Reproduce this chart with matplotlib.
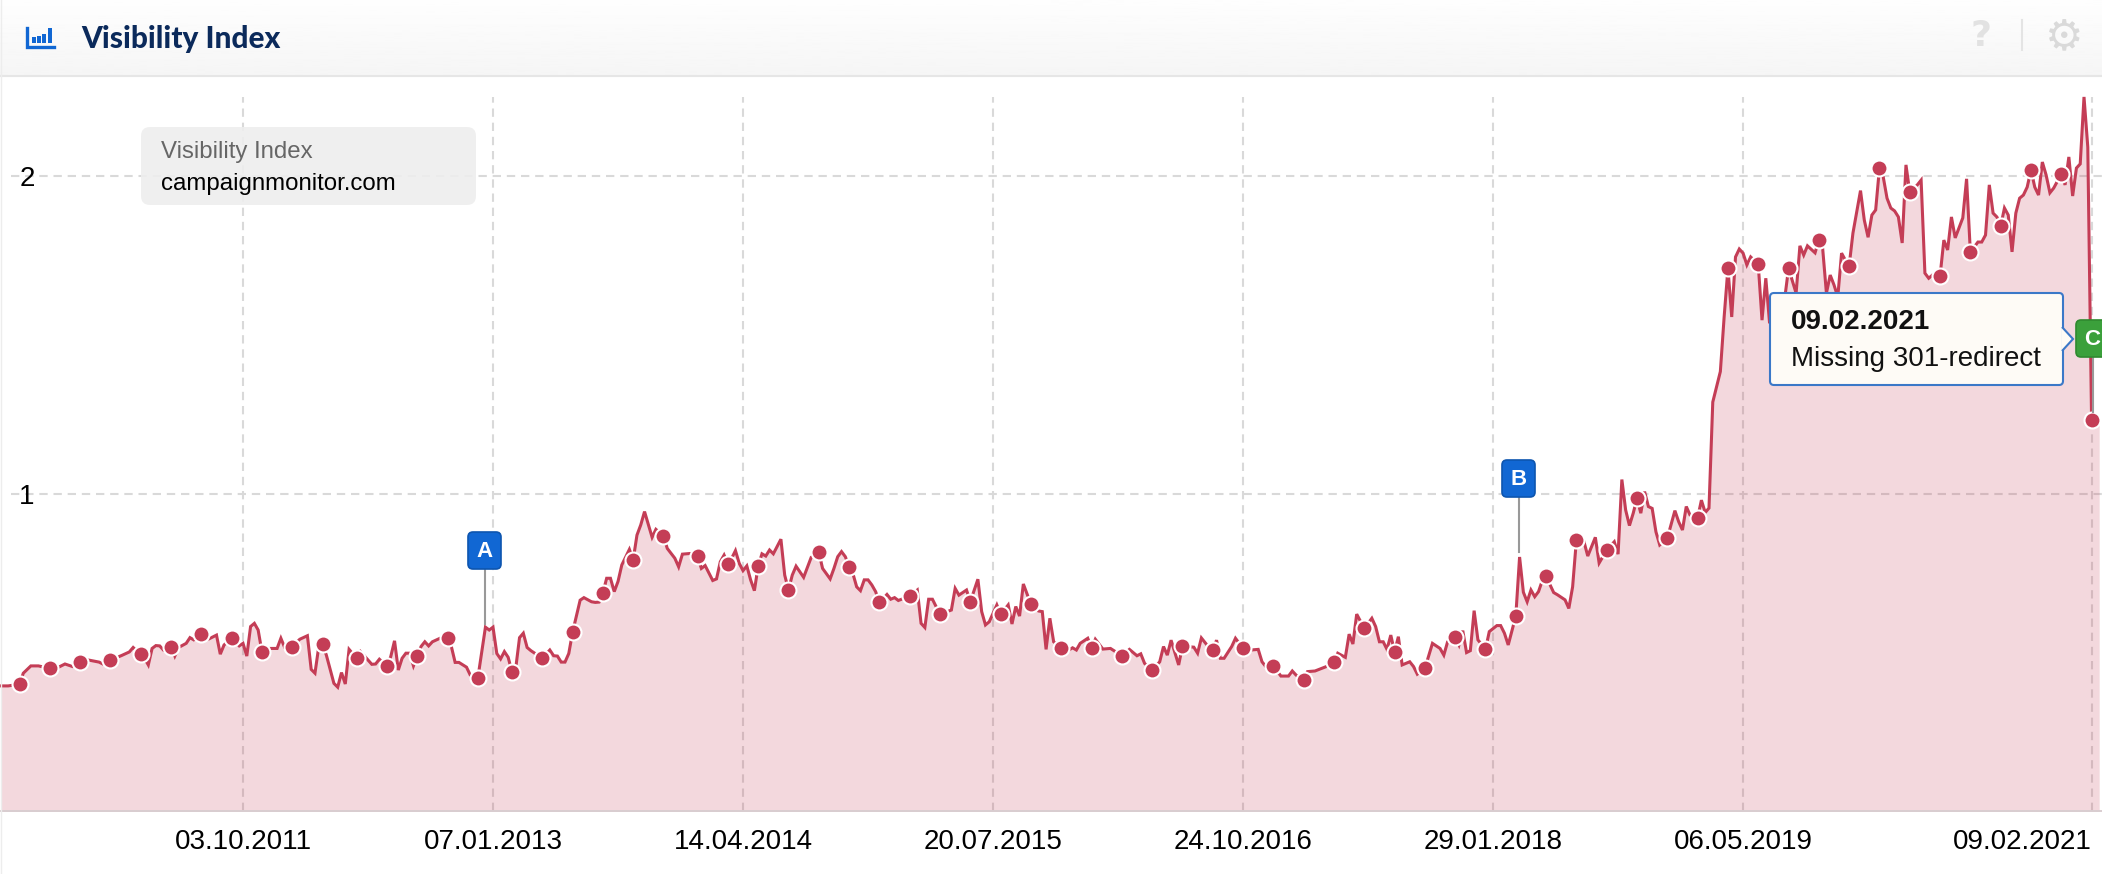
import numpy as np
import pandas as pd
import matplotlib
matplotlib.use("Agg")
import matplotlib.pyplot as plt
from matplotlib.patches import FancyBboxPatch, Polygon, Rectangle

plt.rcParams['font.family'] = ['Liberation Sans', 'DejaVu Sans']

# weeks counted from the first date on the axis
first_date = pd.Timestamp("2010-07-12")

weeks = [0, 2, 5, 6, 8, 10, 13, 15, 17, 19, 21, 23, 26, 27, 29, 32, 34, 35, 37, 38, 39, 40, 41, 42, 43, 45,
         46, 47, 49, 50, 51, 53, 55, 57, 58, 59, 61, 63, 64, 65, 66, 67, 68, 69, 71, 73, 74, 75, 77,
         79, 81, 82, 83, 84, 85, 86, 88, 89, 90, 91, 92, 94, 95, 96, 98, 99, 100, 102, 103, 104, 105, 106,
         107, 108, 109, 110, 111, 112, 113, 114, 116, 118, 119, 120, 121, 123, 124, 126, 128, 129, 130,
         131, 132, 133, 134, 135, 136, 137, 138, 139, 140, 143, 145, 146, 147, 148, 149, 150, 151, 153,
         154, 156, 157,
         158, 159, 160, 161, 162, 163, 164, 166, 167, 168, 169, 170, 172, 173, 175, 176, 178, 179, 180,
         182, 184, 185, 186, 188, 189, 190, 191, 192, 193, 194, 195, 196, 197, 198, 199, 200, 201, 202,
         203, 204, 206, 207, 208, 209, 210, 212, 214, 216, 217, 219, 220, 221, 222, 223, 224, 225, 226,
         227, 228, 229, 230, 231, 232, 234, 235, 236,
         237, 240, 242, 243, 244, 245, 246, 248, 251, 252, 253, 255, 256, 258, 259, 260, 261, 263, 264,
         266, 267, 268, 269, 270, 272, 274, 275, 276, 277, 278, 280, 282, 283, 284, 285, 287, 288, 289,
         291, 293, 296, 298, 300, 301, 302, 304, 306, 307, 308, 309, 311, 312, 315, 316,
         317, 319, 320, 321, 322, 323, 325, 326, 328, 330, 332, 333, 334, 336, 338, 340, 341, 342, 344,
         345, 347, 350, 352, 353, 355, 356, 357, 358, 360, 362, 363, 364, 365, 366, 367, 368, 369, 370,
         372, 373, 374, 376, 378, 380, 381, 382, 384, 385, 386, 387, 388, 389, 390,
         392, 393, 395, 396, 397, 398, 400, 401, 402, 403, 404, 405, 406, 407, 408, 410, 411, 413, 414,
         415, 416, 418, 419, 421, 422, 424, 426, 427, 428, 429, 430, 431, 432, 433, 434, 435, 436, 437,
         438, 440, 442, 443, 444, 445, 446, 448, 449, 450, 451,
         452, 454, 455, 456, 457, 458, 459, 460, 461, 462, 464, 465, 466, 467, 468, 471, 472, 474, 475,
         476, 477, 479, 480, 481, 482, 483, 484, 485, 486, 487, 488, 489, 491, 492, 493, 494, 495, 496,
         497, 498, 499, 500, 501, 502, 503, 504, 506, 507, 508, 509, 510, 512, 513, 514, 515, 516, 518,
         519, 520, 522, 523, 524, 525, 526, 527, 528, 529, 530, 531, 532, 533, 534, 535, 536, 537, 538,
         539, 540, 541, 542, 544, 545, 546, 547, 548, 549, 550, 551, 552, 554]

values = [.394, .394, .399, .434, .457, .457, .449, .451, .463, .455, .469, .476, .469, .463, .475, .490, .501, .515, .493, .481, .460, .512, .521, .520, .507, .518,
          .488, .515, .528, .546, .539, .556, .542, .554, .494, .523, .544, .520, .528, .488, .581, .591, .570, .501, .512, .512, .544, .515, .518,
          .541, .552, .446, .434, .518, .525, .491, .402, .390, .436, .400, .509, .481, .502, .489, .462, .463, .478, .456, .486, .536, .444, .481,
          .497, .497, .457, .487, .518, .533, .520, .533, .544, .544, .518, .468, .468, .453, .428, .419, .579, .570, .579,
          .496, .479, .502, .484, .438, .450, .546, .560, .515, .505, .481, .507, .489, .488, .469, .469, .496, .563, .664,
          .672, .659, .657,
          .658, .687, .733, .733, .691, .723, .775, .824, .791, .869, .901, .943, .862, .887, .866, .827, .796, .769, .809,
          .811, .802, .764, .773, .726, .731, .785, .806, .778, .796, .820, .780, .757, .772, .728, .694, .772, .810, .803,
          .822, .810, .856, .743, .696, .743, .771, .736, .799, .815, .764, .731, .764, .801, .817, .801, .770, .748, .706,
          .694, .728, .728, .712, .691, .657, .682, .667, .672,
          .663, .677, .696, .591, .578, .667, .667, .619, .633, .701, .680, .696, .659, .730, .628, .586, .596, .649, .619,
          .649, .589, .644, .614, .715, .651, .630, .628, .509, .607, .533, .514, .507, .514, .507, .528, .544, .513, .541,
          .510, .512, .489, .509, .489, .495, .465, .443, .470, .518, .491, .538, .460, .519, .516, .497,
          .545, .515, .507, .538, .481, .481, .518, .544, .512, .507, .509, .470, .455, .456, .425, .425, .441, .428, .412,
          .439, .441, .455, .469, .497, .484, .557, .526, .620, .575, .607, .581, .533, .533, .509, .554, .501, .549, .460,
          .470, .455, .431, .449, .528, .512, .491, .533, .549, .523, .568, .499, .505, .631, .539,
          .509, .565, .584, .584, .560, .523, .614, .800, .689, .659, .696, .675, .691, .726, .739, .688, .681, .665, .638,
          .706, .854, .848, .803, .862, .781, .822, .848, .809, 1.044, .948, .899, .938, .985, .938, 1.006, .959, .953, .879,
          .838, .859, .946, .911, .885, .959, .932, .923, .979, .940, .954,
          1.288, 1.384, 1.556, 1.709, 1.556, 1.745, 1.770, 1.757, 1.720, 1.745, 1.722, 1.546, 1.678, 1.536, 1.593, 1.615, 1.709, 1.631, 1.780,
          1.751, 1.780, 1.758, 1.798, 1.773, 1.631, 1.688, 1.657, 1.619, 1.757, 1.735, 1.717, 1.820, 1.954, 1.861, 1.807, 1.877, 1.893, 2.025,
          1.997, 1.930, 1.899, 1.890, 1.871, 1.789, 2.035, 1.949, 1.972, 1.987, 1.694, 1.678, 1.688, 1.685, 1.798, 1.767, 1.871, 1.805, 1.868,
          1.991, 1.760, 1.792, 1.792, 1.814, 1.972, 1.883, 1.871, 1.842, 1.899, 1.877, 1.761, 1.883, 1.930, 1.940, 1.965, 2.019, 1.965, 1.940,
          2.044, 2.003, 1.947, 1.962, 2.006, 1.972, 2.060, 1.937, 2.025, 2.038, 2.249, 2.091, 1.231, 1.231]

marker_weeks = [5, 13, 21, 29, 37, 45, 53, 61, 69, 77, 85, 94, 102, 110, 118, 126, 135, 143, 151, 159,
                167, 175, 184, 192, 200, 208, 216, 224, 232, 240, 248, 256, 264, 272, 280, 288, 296, 304,
                312, 320, 328, 336, 344, 352, 360, 368, 376, 384, 392, 400, 408, 416, 424, 432, 440, 448,
                456, 464, 472, 480, 488, 496, 504, 512, 520, 528, 536, 544, 552]

tick_dates = ["2011-10-03", "2013-01-07", "2014-04-14", "2015-07-20", "2016-10-24", "2018-01-29", "2019-05-06", "2021-02-09"]
tick_labels = ["03.10.2011", "07.01.2013", "14.04.2014", "20.07.2015", "24.10.2016", "29.01.2018", "06.05.2019", "09.02.2021"]
y_ticks = [1, 2]

RED = '#C43D56'
GRID = '#D9D9D9'
BLUE = '#1167D3'

weeks = np.array(weeks)
values = np.array(values)
dates = first_date + pd.to_timedelta(weeks * 7, unit='D')
ticks = pd.to_datetime(tick_dates)
shown = np.isin(weeks, marker_weeks)

fig = plt.figure(figsize=(21.02, 8.74), dpi=100, facecolor='white')
ax = fig.add_axes([0, 63 / 874, 1, 735 / 874])

#grid lines, drawn first so the area lies over them
ax.vlines(ticks, 0, 2.25, color=GRID, lw=1.5, linestyle=(0, (4, 2.8)), zorder=1)
ax.hlines(y_ticks, first_date + pd.Timedelta(days=19), first_date + pd.Timedelta(weeks=555),
          color=GRID, lw=1.5, linestyle=(0, (4, 2.8)), zorder=1)

ax.fill_between(dates, values, 0, color=RED, alpha=0.2, lw=0, zorder=2)
ax.plot(dates, values, color=RED, lw=2.2, solid_joinstyle='miter', zorder=3)
ax.plot(dates[shown], values[shown], ls='none', marker='o', ms=11.5, mfc=RED, mec='white', mew=1.5, zorder=4)

ax.set_xlim(first_date - pd.Timedelta(weeks=0.15), first_date + pd.Timedelta(weeks=554.75))
ax.set_ylim(0, 735 / 317.5)
ax.set_xticks(ticks)
ax.set_xticklabels(tick_labels, fontsize=20, color='black')
ax.set_yticks(y_ticks)
ax.set_yticklabels([str(t) for t in y_ticks], fontsize=20, color='black')
ax.tick_params(axis='x', length=0, pad=13)
ax.tick_params(axis='y', length=0, pad=-25)
ax.get_xticklabels()[-1].set_ha('right')
for side in ['top', 'left', 'right']:
    ax.spines[side].set_visible(False)
ax.spines['bottom'].set_color('#D9CDD0')
ax.spines['bottom'].set_linewidth(1.4)
ax.patch.set_alpha(0)

# everything around the chart, in pixels of the picture
ov = fig.add_axes([0, 0, 1, 1], zorder=5)
ov.axis('off')
ov.imshow(np.linspace(0.995, 0.962, 64).reshape(-1, 1), cmap='gray', vmin=0, vmax=1,
          extent=[0, 2102, 75, 0], aspect='auto', zorder=1)
ov.set_xlim(0, 2102)
ov.set_ylim(874, 0)
ov.plot([0, 2102], [75.5, 75.5], color='#E6E6E6', lw=1.5, zorder=2)
ov.plot([0.5, 0.5], [0, 874], color='#EDEDED', lw=1, zorder=2)

ov.text(81, 39, "Visibility Index", family='Lato', weight='black', fontsize=21.4, color='#0B2A5B', va='center', ha='left', zorder=3)

#icon in the header
ov.plot([27, 27, 54], [28, 47, 47], color=BLUE, lw=2.4, solid_joinstyle='miter', zorder=3)
for bar_x, bar_top in zip([34, 39, 44, 50], [37, 36, 34, 28]):
    ov.add_patch(Rectangle((bar_x - 1.7, bar_top), 3.4, 43 - bar_top, color=BLUE, lw=0, zorder=3))

ov.text(1981, 36, "?", family='DejaVu Sans', weight='bold', fontsize=26, color='#E2E2E2', ha='center', va='center', zorder=3)
ov.plot([2022, 2022], [20, 50], color='#E4E4E4', lw=1.5, zorder=3)
ov.text(2064, 37, "\u2699", family='DejaVu Sans', fontsize=31, weight='bold', color='#DADADA', ha='center', va='center', zorder=3)

#legend box
ov.add_patch(FancyBboxPatch((141, 127), 335, 78, boxstyle="round,pad=0,rounding_size=9",
                            fc='#EEEEEE', ec='none', alpha=0.9, zorder=3))
ov.text(161, 152, "Visibility Index", fontsize=17.3, color='#666666', va='center', zorder=4)
ov.text(161, 184, "campaignmonitor.com", fontsize=17.3, color='black', va='center', zorder=4)


def flag(x0, x1, y0, y1, stem_x, stem_y, letter, fc, ec):
    ov.plot([stem_x, stem_x], [y1, stem_y], color='#999999', lw=1.5, zorder=5)
    ov.add_patch(FancyBboxPatch((x0 + 4, y0 + 4), x1 - x0 - 8, y1 - y0 - 8, boxstyle="round,pad=4,rounding_size=5",
                                fc=fc, ec=ec, lw=1.2, zorder=6, clip_on=True))
    ov.text((x0 + x1) / 2, (y0 + y1) / 2 + 1, letter, color='white', weight='bold', fontsize=16,
            ha='center', va='center', zorder=7, clip_on=True)


flag(468, 501, 532, 569, 484.5, 624, "A", BLUE, '#0D55AF')
flag(1502, 1535, 460, 497, 1518.5, 552, "B", BLUE, '#0D55AF')

#tooltip
ov.add_patch(FancyBboxPatch((1773, 296), 287, 86, boxstyle="round,pad=3,rounding_size=4",
                            fc='#FEFBF6', ec='#3B78C8', lw=1.5, zorder=8))
ov.add_patch(Polygon([[2062, 327], [2073, 339], [2062, 351]], closed=False, fc='#FEFBF6', ec='#3B78C8', lw=1.5, zorder=9))
ov.text(1791, 322, "09.02.2021", weight='bold', fontsize=20, color='#111111', va='center', zorder=10)
ov.text(1791, 359, "Missing 301-redirect", fontsize=20, color='#111111', va='center', zorder=10)

# C sits over the tooltip arrow and runs off the right edge
flag(2076, 2109, 320, 357, 2092.7, 412, "C", '#3BA03B', '#2F8A2F')
ov.set_xlim(0, 2102)
ov.set_ylim(874, 0)

fig.savefig("out.png", dpi=100)
